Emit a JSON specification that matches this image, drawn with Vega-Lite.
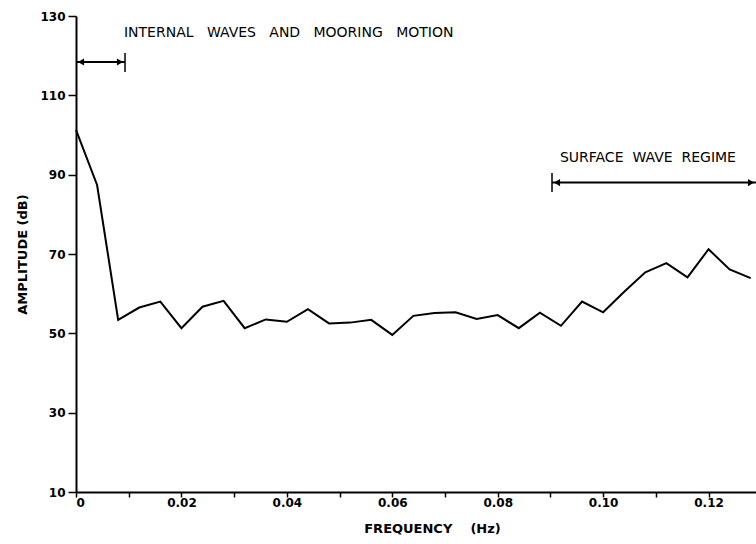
{
  "$schema": "https://vega.github.io/schema/vega-lite/v6.json",
  "width": 680,
  "height": 476,
  "autosize": "none",
  "padding": {"left": 76, "top": 16, "right": 0, "bottom": 52},
  "background": "white",
  "config": {
    "view": {"stroke": null},
    "font": "DejaVu Sans",
    "axis": {
      "grid": false,
      "domainColor": "black",
      "domainWidth": 2,
      "tickColor": "black",
      "tickWidth": 1.5,
      "labelColor": "black",
      "labelFont": "DejaVu Sans",
      "labelFontSize": 12,
      "labelFontWeight": "bold",
      "titleColor": "black",
      "titleFont": "DejaVu Sans",
      "titleFontSize": 13,
      "titleFontWeight": "bold"
    }
  },
  "datasets": {
    "spectrum": [
      {"f": 0.000, "amp": 101.3},
      {"f": 0.004, "amp": 87.4},
      {"f": 0.008, "amp": 53.4},
      {"f": 0.012, "amp": 56.5},
      {"f": 0.016, "amp": 58.0},
      {"f": 0.020, "amp": 51.3},
      {"f": 0.024, "amp": 56.7},
      {"f": 0.028, "amp": 58.2},
      {"f": 0.032, "amp": 51.3},
      {"f": 0.036, "amp": 53.5},
      {"f": 0.040, "amp": 52.9},
      {"f": 0.044, "amp": 56.1},
      {"f": 0.048, "amp": 52.5},
      {"f": 0.052, "amp": 52.7},
      {"f": 0.056, "amp": 53.4},
      {"f": 0.060, "amp": 49.6},
      {"f": 0.064, "amp": 54.4},
      {"f": 0.068, "amp": 55.1},
      {"f": 0.072, "amp": 55.3},
      {"f": 0.076, "amp": 53.6},
      {"f": 0.080, "amp": 54.6},
      {"f": 0.084, "amp": 51.3},
      {"f": 0.088, "amp": 55.2},
      {"f": 0.092, "amp": 51.9},
      {"f": 0.096, "amp": 58.0},
      {"f": 0.100, "amp": 55.3},
      {"f": 0.104, "amp": 60.5},
      {"f": 0.108, "amp": 65.4},
      {"f": 0.112, "amp": 67.7},
      {"f": 0.116, "amp": 64.1},
      {"f": 0.120, "amp": 71.2},
      {"f": 0.124, "amp": 66.1},
      {"f": 0.128, "amp": 63.9}
    ],
    "arrows": [
      {"name": "internal", "x0": 0.0, "x1": 0.0093, "y": 118.4},
      {"name": "surface", "x0": 0.0903, "x1": 0.129, "y": 88.0}
    ],
    "bars": [
      {"x": 0.0093, "ylo": 115.9, "yhi": 120.7},
      {"x": 0.0903, "ylo": 85.6, "yhi": 90.4}
    ],
    "labels": [
      {"x": 0.0091, "y": 125.7, "text": "INTERNAL\u00a0\u00a0 WAVES\u00a0\u00a0 AND\u00a0\u00a0 MOORING\u00a0\u00a0 MOTION"},
      {"x": 0.0918, "y": 94.2, "text": "SURFACE\u00a0 WAVE\u00a0 REGIME"}
    ]
  },
  "layer": [
    {
      "data": {"name": "spectrum"},
      "mark": {"type": "line", "color": "black", "strokeWidth": 2},
      "encoding": {
        "x": {
          "field": "f", "type": "quantitative",
          "scale": {"domain": [0, 0.129], "nice": false, "zero": false},
          "axis": {
            "values": [0, 0.01, 0.02, 0.03, 0.04, 0.05, 0.06, 0.07, 0.08, 0.09, 0.1, 0.11, 0.12],
            "labelExpr": "round(datum.value*100) % 2 === 0 ? (datum.value === 0 ? '0' : format(datum.value, '.2f')) : ''",
            "tickSize": 5,
            "labelPadding": 0,
            "title": "FREQUENCY\u00a0\u00a0\u00a0 (Hz)",
            "titlePadding": 14,
            "titleX": 356
          }
        },
        "y": {
          "field": "amp", "type": "quantitative",
          "scale": {"domain": [10, 130], "nice": false, "zero": false},
          "axis": {
            "values": [10, 30, 50, 70, 90, 110, 130],
            "tickSize": 8,
            "labelPadding": 3,
            "title": "AMPLITUDE (dB)",
            "titlePadding": 10
          }
        }
      }
    },
    {
      "data": {"name": "arrows"},
      "mark": {"type": "rule", "color": "black", "strokeWidth": 2},
      "encoding": {
        "x": {"field": "x0", "type": "quantitative"},
        "x2": {"field": "x1"},
        "y": {"field": "y", "type": "quantitative"}
      }
    },
    {
      "data": {"name": "bars"},
      "mark": {"type": "rule", "color": "black", "strokeWidth": 1.5},
      "encoding": {
        "x": {"field": "x", "type": "quantitative"},
        "y": {"field": "ylo", "type": "quantitative"},
        "y2": {"field": "yhi"}
      }
    },
    {
      "data": {"name": "arrows"},
      "mark": {"type": "point", "shape": "triangle-left", "filled": true, "color": "black", "size": 50, "opacity": 1, "xOffset": 5},
      "encoding": {
        "x": {"field": "x0", "type": "quantitative"},
        "y": {"field": "y", "type": "quantitative"}
      }
    },
    {
      "data": {"name": "arrows"},
      "mark": {"type": "point", "shape": "triangle-right", "filled": true, "color": "black", "size": 50, "opacity": 1, "xOffset": -5},
      "encoding": {
        "x": {"field": "x1", "type": "quantitative"},
        "y": {"field": "y", "type": "quantitative"}
      }
    },
    {
      "data": {"name": "labels"},
      "mark": {"type": "text", "align": "left", "baseline": "middle", "font": "DejaVu Sans", "fontSize": 14, "color": "black"},
      "encoding": {
        "x": {"field": "x", "type": "quantitative"},
        "y": {"field": "y", "type": "quantitative"},
        "text": {"field": "text"}
      }
    }
  ]
}
